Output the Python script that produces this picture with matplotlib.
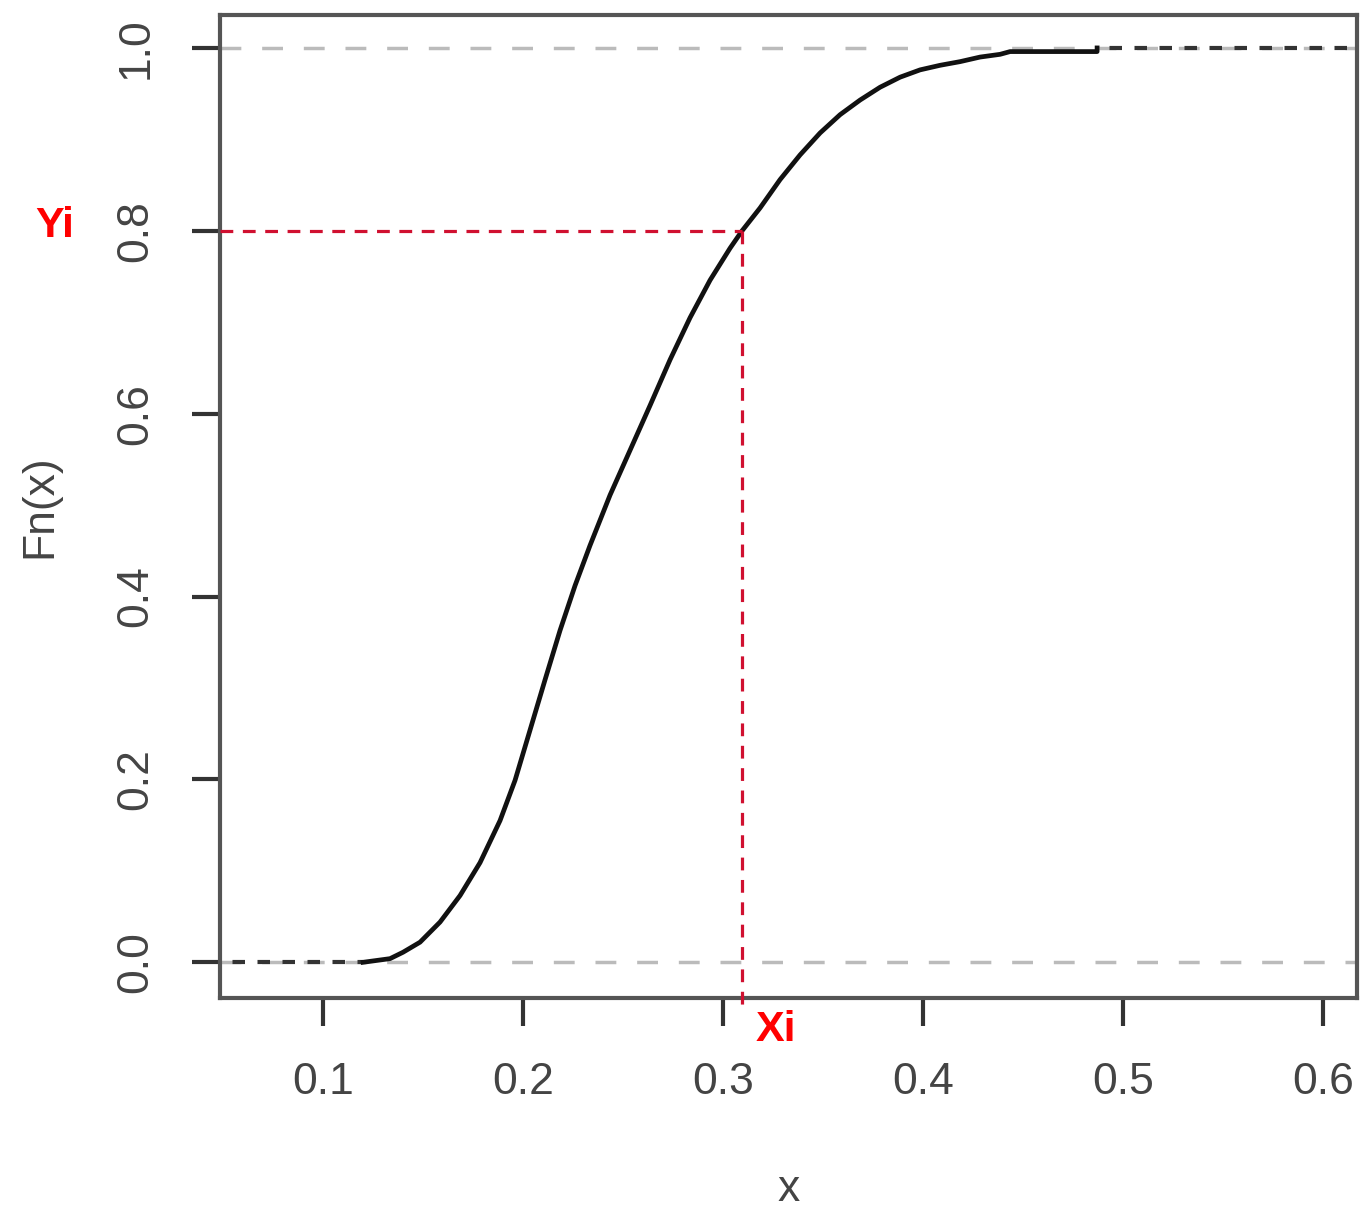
import matplotlib
matplotlib.use("Agg")
import matplotlib.pyplot as plt

plt.rcParams['font.family'] = ['Liberation Sans', 'DejaVu Sans']

x_vals = [0.120, 0.1335, 0.140, 0.1485, 0.1585, 0.1685, 0.1785, 0.1885, 0.196,
          0.2035, 0.211, 0.2185, 0.226, 0.2335, 0.2435, 0.2535, 0.2635, 0.2735,
          0.2835, 0.2935, 0.3035, 0.3095, 0.3185, 0.3285, 0.3385, 0.3485, 0.3585,
          0.3685, 0.3785, 0.3885, 0.3985, 0.4085, 0.4185, 0.4285, 0.4385, 0.4435,
          0.487, 0.487]
y_vals = [0.000, 0.004, 0.011, 0.022, 0.044, 0.073, 0.109, 0.155, 0.199,
          0.254, 0.309, 0.363, 0.412, 0.456, 0.511, 0.560, 0.609, 0.659,
          0.705, 0.746, 0.781, 0.800, 0.825, 0.856, 0.883, 0.907, 0.927,
          0.943, 0.957, 0.968, 0.976, 0.981, 0.985, 0.990, 0.993, 0.996,
          0.996, 1.000]

xi, yi = 0.3095, 0.8
x_ticks = [0.1, 0.2, 0.3, 0.4, 0.5, 0.6]
y_ticks = [0.0, 0.2, 0.4, 0.6, 0.8, 1.0]
xlim = (0.0485, 0.617)
ylim = (-0.039, 1.036)

txt = '#444444'
fig = plt.figure(figsize=(13.7, 12.2), dpi=100)
ax = fig.add_axes([0.1606, 0.182, 0.83, 0.8057])

# gray reference lines at 0 and 1
for h in (0, 1):
    ax.axhline(h, color='#bbbbbb', lw=2.5, ls=(0, (6, 6)), zorder=1)

# the curve and its extensions
ax.plot(x_vals, y_vals, color='#111111', lw=3.4, zorder=3)
ax.plot([xlim[0], x_vals[0]], [0, 0], color='#333333', lw=3, ls=(3, (3, 3)), zorder=2)
ax.plot([x_vals[-1], xlim[1]], [1, 1], color='#333333', lw=3, ls=(3, (3, 3)), zorder=2)

# red guide lines
red = '#d01030'
ax.plot([xlim[0], xi], [yi, yi], color=red, lw=2.3, ls=(0, (4, 3)), zorder=4)
ax.plot([xi, xi], [yi, -0.053], color=red, lw=2.3, ls=(0, (4, 3)), zorder=4, clip_on=False)
ax.text(xi + 0.007, -0.052, 'Xi', color='red', fontsize=31, fontweight='bold',
        ha='left', va='top', clip_on=False)
ax.text(-0.145, yi + 0.005, 'Yi', color='red', fontsize=31, fontweight='bold',
        ha='center', va='center', transform=ax.get_yaxis_transform(), clip_on=False)

ax.set_xlim(*xlim)
ax.set_ylim(*ylim)
ax.set_xticks(x_ticks)
ax.set_xticklabels([f'{t:.1f}' for t in x_ticks])
ax.set_yticks(y_ticks)
ax.set_yticklabels([f'{t:.1f}' for t in y_ticks], rotation=90, va='center')
ax.tick_params(axis='both', length=20, width=3, color='#333333', labelsize=32,
               labelcolor=txt, pad=26)
for s in ax.spines.values():
    s.set_linewidth(3)
    s.set_color('#555555')

ax.set_xlabel('x', fontsize=32, color=txt)
ax.set_ylabel('Fn(x)', fontsize=32, color=txt)
ax.xaxis.set_label_coords(0.5, -0.195)
ax.yaxis.set_label_coords(-0.158, 0.5)
ax.xaxis.label.set_va('center')
ax.yaxis.label.set_va('center')

fig.savefig('out.png', dpi=100)
